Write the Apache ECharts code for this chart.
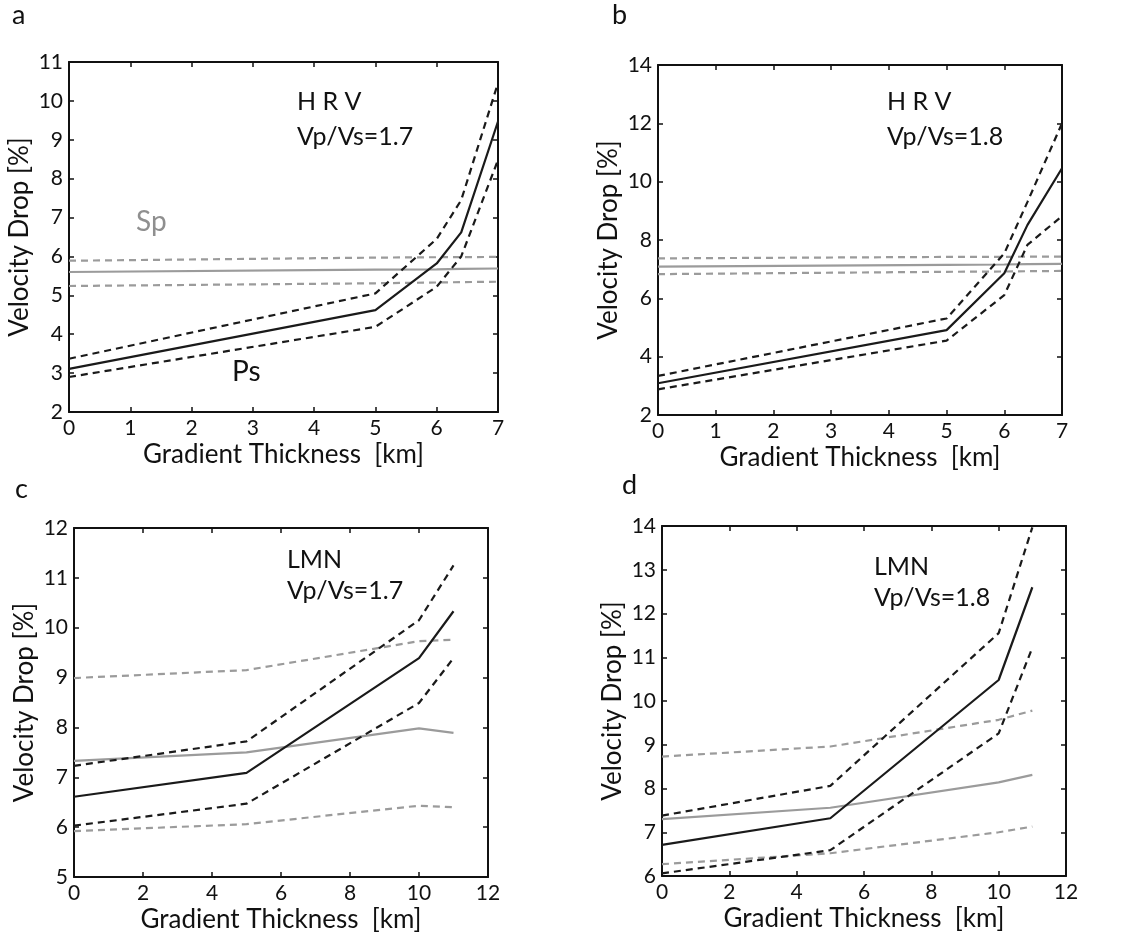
<!DOCTYPE html>
<html>
<head>
<meta charset="utf-8">
<script src="https://cdn.jsdelivr.net/npm/echarts@6/dist/echarts.min.js"></script>
<style>
  html, body { margin: 0; padding: 0; background: #fff; }
  #chart { width: 1134px; height: 934px; }
</style>
</head>
<body>
<div id="chart"></div>
<script>
// Gradient thickness sample points (km)
const hrvThickness = [0, 5, 6, 6.4, 7];
const lmnThickness = [0, 5, 10, 11];

// Panel a: HRV, Vp/Vs = 1.7  (velocity drop, %)
const aPsMean  = [3.11, 4.62, 5.82, 6.62, 9.47];
const aPsUpper = [3.37, 5.05, 6.45, 7.45, 10.46];
const aPsLower = [2.90, 4.19, 5.22, 6.00, 8.48];
const aSpMean  = [5.60, 5.66, 5.67, 5.68, 5.69];
const aSpUpper = [5.89, 5.97, 5.98, 5.98, 5.99];
const aSpLower = [5.24, 5.31, 5.33, 5.34, 5.35];

// Panel b: HRV, Vp/Vs = 1.8
const bPsMean  = [3.09, 4.91, 6.86, 8.51, 10.46];
const bPsUpper = [3.34, 5.31, 7.54, 9.30, 12.00];
const bPsLower = [2.88, 4.55, 6.11, 7.83, 8.82];
const bSpMean  = [7.09, 7.15, 7.16, 7.17, 7.18];
const bSpUpper = [7.37, 7.42, 7.42, 7.43, 7.43];
const bSpLower = [6.83, 6.91, 6.92, 6.93, 6.94];

// Panel c: LMN, Vp/Vs = 1.7
const cPsMean  = [6.61, 7.09, 9.39, 10.33];
const cPsUpper = [7.23, 7.72, 10.15, 11.25];
const cPsLower = [6.03, 6.47, 8.49, 9.39];
const cSpMean  = [7.33, 7.50, 7.98, 7.89];
const cSpUpper = [8.99, 9.15, 9.73, 9.76];
const cSpLower = [5.92, 6.06, 6.43, 6.40];

// Panel d: LMN, Vp/Vs = 1.8
const dPsMean  = [6.71, 7.32, 10.48, 12.60];
const dPsUpper = [7.38, 8.06, 11.55, 13.97];
const dPsLower = [6.06, 6.59, 9.26, 11.22];
const dSpMean  = [7.30, 7.56, 8.14, 8.31];
const dSpUpper = [8.73, 8.96, 9.57, 9.78];
const dSpLower = [6.27, 6.52, 7.00, 7.13];

// Axis ranges per panel: [xMin, xMax, xStep, yMin, yMax, yStep]
const axisRanges = [
  [0, 7, 1, 2, 11, 1],
  [0, 7, 1, 2, 14, 2],
  [0, 12, 2, 5, 12, 1],
  [0, 12, 2, 6, 14, 1]
];

const FONT = 'Lato';
const BLACK = '#1a1a1a';
const GRAY = '#9b9b9b';

const grids = [
  { left: 69,  top: 62,  width: 429, height: 350 },
  { left: 658, top: 65,  width: 404, height: 350 },
  { left: 74,  top: 528, width: 414, height: 349 },
  { left: 662, top: 526, width: 404, height: 350 }
];

const panels = [
  { x: hrvThickness, ps: [aPsMean, aPsUpper, aPsLower], sp: [aSpMean, aSpUpper, aSpLower] },
  { x: hrvThickness, ps: [bPsMean, bPsUpper, bPsLower], sp: [bSpMean, bSpUpper, bSpLower] },
  { x: lmnThickness, ps: [cPsMean, cPsUpper, cPsLower], sp: [cSpMean, cSpUpper, cSpLower] },
  { x: lmnThickness, ps: [dPsMean, dPsUpper, dPsLower], sp: [dSpMean, dSpUpper, dSpLower] }
];

const pairs = (xs, ys) => xs.map((x, i) => [x, ys[i]]);

const xAxes = [], yAxes = [], series = [];
axisRanges.forEach((r, g) => {
  const [x0, x1, xs, y0, y1, ys] = r;
  const lineCfg = { show: true, onZero: false, lineStyle: { color: '#111', width: 2 } };
  const tickCfg = { show: true, inside: true, length: 5, lineStyle: { color: '#111', width: 1.5 } };
  // bottom axis with labels
  xAxes.push({
    type: 'value', gridIndex: g, position: 'bottom', min: x0, max: x1, interval: xs,
    axisLine: lineCfg, axisTick: tickCfg, splitLine: { show: false },
    axisLabel: { color: '#111', fontSize: 21, fontFamily: FONT, margin: 6 },
    name: 'Gradient Thickness  [km]', nameLocation: 'middle', nameGap: 30,
    nameTextStyle: { color: '#111', fontSize: 26, fontFamily: FONT }
  });
  // top mirror axis (ticks only)
  xAxes.push({
    type: 'value', gridIndex: g, position: 'top', min: x0, max: x1, interval: xs,
    axisLine: lineCfg, axisTick: tickCfg, splitLine: { show: false },
    axisLabel: { show: false }
  });
  yAxes.push({
    type: 'value', gridIndex: g, position: 'left', min: y0, max: y1, interval: ys,
    axisLine: lineCfg, axisTick: tickCfg, splitLine: { show: false },
    axisLabel: { color: '#111', fontSize: 21, fontFamily: FONT, margin: 6 },
    name: 'Velocity Drop [%]', nameLocation: 'middle', nameGap: 36, nameRotate: 90,
    nameTextStyle: { color: '#111', fontSize: 26, fontFamily: FONT }
  });
  // right mirror axis (ticks only)
  yAxes.push({
    type: 'value', gridIndex: g, position: 'right', min: y0, max: y1, interval: ys,
    axisLine: lineCfg, axisTick: tickCfg, splitLine: { show: false },
    axisLabel: { show: false }
  });

  const p = panels[g];
  const mk = (ys, color, dashed, z) => ({
    type: 'line', xAxisIndex: 2 * g, yAxisIndex: 2 * g,
    data: pairs(p.x, ys), symbol: 'none', silent: true, z: z,
    lineStyle: { color: color, width: 2.2, type: dashed ? [7, 5] : 'solid' }
  });
  series.push(mk(p.sp[0], GRAY, false, 2), mk(p.sp[1], GRAY, true, 2), mk(p.sp[2], GRAY, true, 2));
  series.push(mk(p.ps[0], BLACK, false, 3), mk(p.ps[1], BLACK, true, 3), mk(p.ps[2], BLACK, true, 3));
});

const txt = (text, left, top, size, color) => ({
  type: 'text', left: left, top: top, silent: true,
  style: { text: text, fontSize: size, fontFamily: FONT, fill: color || '#111' }
});

const option = {
  animation: false,
  backgroundColor: '#fff',
  grid: grids,
  xAxis: xAxes,
  yAxis: yAxes,
  series: series,
  graphic: [
    txt('a', 12, 2, 27),
    txt('b', 612, 2, 27),
    txt('c', 15, 476, 27),
    txt('d', 622, 472, 27),
    txt('H R V', 297, 89, 25),
    txt('Vp/Vs=1.7', 297, 124, 25),
    txt('H R V', 887, 89, 25),
    txt('Vp/Vs=1.8', 887, 124, 25),
    txt('LMN', 287, 547, 25),
    txt('Vp/Vs=1.7', 287, 578, 25),
    txt('LMN', 874, 554, 25),
    txt('Vp/Vs=1.8', 874, 585, 25),
    txt('Sp', 136, 208, 28, '#8f8f8f'),
    txt('Ps', 232, 358, 28, '#111')
  ]
};

const chart = echarts.init(document.getElementById('chart'), null, { renderer: 'canvas' });
chart.setOption(option);
</script>
</body>
</html>
